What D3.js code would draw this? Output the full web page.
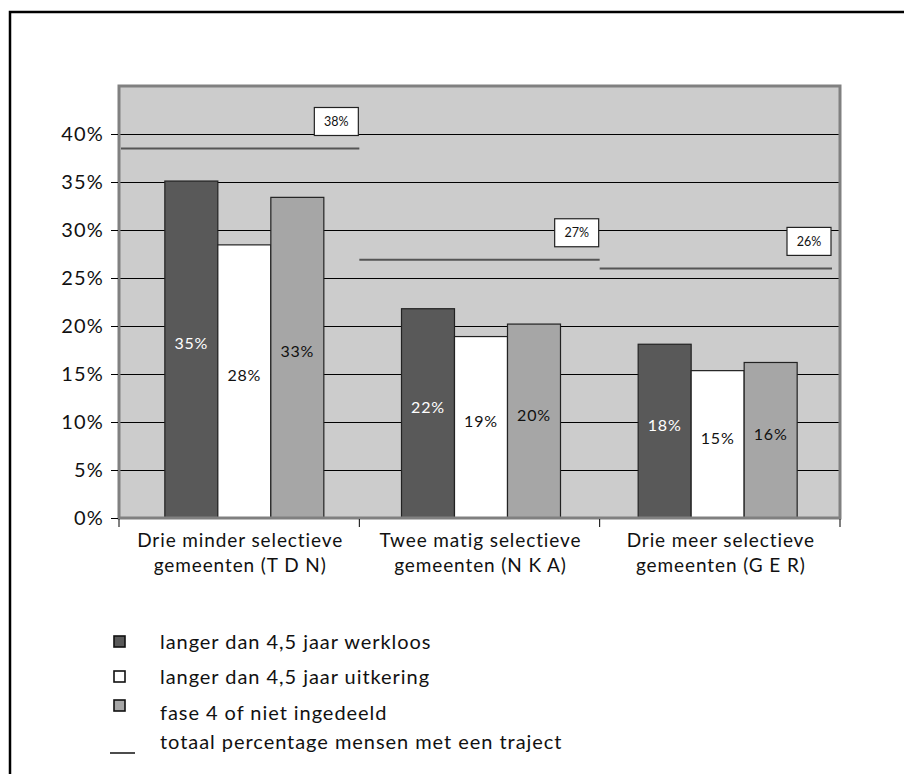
<!DOCTYPE html>
<html>
<head>
<meta charset="utf-8">
<script src="https://cdn.jsdelivr.net/npm/d3@7"></script>
<style>
  html, body { margin: 0; padding: 0; background: #fff; }
  svg { display: block; font-family: Lato, "Open Sans", sans-serif; }
</style>
</head>
<body>
<svg id="chart" width="904" height="774"></svg>
<script>
// Categories (two-line labels) and the three bar series, in percent
const categories = [
  ["Drie minder selectieve", "gemeenten (T D N)"],
  ["Twee matig selectieve", "gemeenten (N K A)"],
  ["Drie meer selectieve", "gemeenten (G E R)"]
];
const seriesNames = [
  "langer dan 4,5 jaar werkloos",
  "langer dan 4,5 jaar uitkering",
  "fase 4 of niet ingedeeld"
];
const werkloos   = [35.1, 21.8, 18.1];
const uitkering  = [28.45, 18.9, 15.35];
const fase4      = [33.4, 20.2, 16.2];
// Total share of people with a trajectory, per category
const totaal     = [38.49, 26.9, 26.0];
const lineName   = "totaal percentage mensen met een traject";
const yTicks     = [0, 5, 10, 15, 20, 25, 30, 35, 40];

const fills = ["#595959", "#ffffff", "#a6a6a6"];
const series = [werkloos, uitkering, fase4];

const svg = d3.select("#chart");

// outer frame
svg.append("rect")
  .attr("x", 10).attr("y", 12).attr("width", 920).attr("height", 800)
  .attr("fill", "none").attr("stroke", "#000").attr("stroke-width", 2.5);

const plot = { left: 119, right: 840, top: 86, bottom: 518 };

const y = d3.scaleLinear().domain([0, 45]).range([plot.bottom, plot.top]);
const xAxisScale = d3.scaleBand().domain(d3.range(categories.length))
  .range([plot.left, plot.right]);
const xBars = d3.scaleBand().domain(d3.range(categories.length))
  .range([126, 836]);
const barW = 53;
const xSub = d3.scaleBand().domain(d3.range(series.length))
  .range([0, barW * series.length]);

// plot background
svg.append("rect")
  .attr("x", plot.left).attr("y", plot.top)
  .attr("width", plot.right - plot.left).attr("height", plot.bottom - plot.top)
  .attr("fill", "#cccccc");

// gridlines
svg.append("g").selectAll("line").data(yTicks.filter(d => d > 0)).join("line")
  .attr("x1", plot.left).attr("x2", plot.right)
  .attr("y1", d => Math.round(y(d)) + 0.5).attr("y2", d => Math.round(y(d)) + 0.5)
  .attr("stroke", "#000").attr("stroke-width", 1.2);

// bars
const groups = svg.append("g").selectAll("g").data(categories).join("g")
  .attr("transform", (d, i) => `translate(${xBars(i) + xBars.bandwidth() / 2 - barW * 1.5},0)`);

groups.each(function(c, i) {
  const g = d3.select(this);
  series.forEach((s, k) => {
    g.append("rect")
      .attr("x", xSub(k)).attr("y", y(s[i]))
      .attr("width", xSub.bandwidth()).attr("height", y(0) - y(s[i]))
      .attr("fill", fills[k]).attr("stroke", "#222").attr("stroke-width", 1.2);
    g.append("text")
      .attr("x", xSub(k) + xSub.bandwidth() / 2)
      .attr("y", (y(s[i]) + y(0)) / 2 - 6)
      .attr("dy", "0.35em")
      .attr("text-anchor", "middle")
      .attr("font-size", 16).attr("letter-spacing", 0.8)
      .attr("fill", k === 0 ? "#fff" : "#111")
      .text(d3.format(".0f")(s[i]) + "%");
  });
});

// total lines per category
svg.append("g").selectAll("line").data(totaal).join("line")
  .attr("x1", (d, i) => xAxisScale(i) + (i === 0 ? 2 : 0))
  .attr("x2", (d, i) => xAxisScale(i) + xAxisScale.bandwidth() - (i === 2 ? 8 : 0))
  .attr("y1", d => y(d)).attr("y2", d => y(d))
  .attr("stroke", "#555").attr("stroke-width", 2);

// value boxes for the totals
const boxes = svg.append("g").selectAll("g").data(totaal).join("g")
  .attr("transform", (d, i) => {
    const xr = xAxisScale(i) + xAxisScale.bandwidth() - (i === 2 ? 8 : 0);
    return `translate(${xr - 45},${y(d) - 41})`;
  });
boxes.append("rect")
  .attr("width", 44).attr("height", 28)
  .attr("fill", "#fff").attr("stroke", "#222").attr("stroke-width", 1.2);
boxes.append("text")
  .attr("x", 22).attr("y", 14).attr("dy", "0.35em")
  .attr("text-anchor", "middle").attr("font-size", 12.5).attr("fill", "#111")
  .text(d => d3.format(".0f")(d) + "%");

// plot border
svg.append("rect")
  .attr("x", plot.left).attr("y", plot.top)
  .attr("width", plot.right - plot.left).attr("height", plot.bottom - plot.top)
  .attr("fill", "none").attr("stroke", "#808080").attr("stroke-width", 3);

// y axis
const yAxis = svg.append("g").attr("transform", `translate(${plot.left - 1},0)`)
  .call(d3.axisLeft(y).tickValues(yTicks).tickSize(7).tickPadding(7)
    .tickFormat(d => d + "%"));
yAxis.select(".domain").remove();
yAxis.selectAll(".tick line").attr("stroke", "#000");
yAxis.selectAll(".tick text").attr("font-size", 20).attr("letter-spacing", 1.2)
  .attr("fill", "#111").attr("font-family", "Lato, sans-serif");

// category axis ticks at the band boundaries
svg.append("g").selectAll("line")
  .data(d3.range(categories.length + 1).map(i => plot.left + i * xAxisScale.bandwidth()))
  .join("line")
  .attr("x1", d => d).attr("x2", d => d)
  .attr("y1", plot.bottom + 1).attr("y2", plot.bottom + 9)
  .attr("stroke", "#000");

const catText = svg.append("g").selectAll("text").data(categories).join("text")
  .attr("x", (d, i) => xAxisScale(i) + xAxisScale.bandwidth() / 2 + 1)
  .attr("y", 547)
  .attr("text-anchor", "middle").attr("font-size", 19).attr("letter-spacing", 0.9)
  .attr("fill", "#111");
catText.each(function(d) {
  const t = d3.select(this);
  d.forEach((line, j) => t.append("tspan")
    .attr("x", t.attr("x")).attr("dy", j === 0 ? 0 : 25).text(line));
});

// legend
const legendY = [642, 677, 713, 742];
const leg = svg.append("g");
seriesNames.forEach((name, k) => {
  leg.append("rect")
    .attr("x", 114).attr("y", legendY[k] - (k === 2 ? 13 : 6))
    .attr("width", 11).attr("height", 11)
    .attr("fill", fills[k]).attr("stroke", "#111").attr("stroke-width", 1.6);
  leg.append("text")
    .attr("x", 160).attr("y", legendY[k]).attr("dy", "0.35em")
    .attr("font-size", 20).attr("letter-spacing", 0.95)
    .attr("fill", "#111").text(name);
});
leg.append("line")
  .attr("x1", 110).attr("x2", 135)
  .attr("y1", legendY[3] + 11).attr("y2", legendY[3] + 11)
  .attr("stroke", "#111").attr("stroke-width", 1.5);
leg.append("text")
  .attr("x", 160).attr("y", legendY[3]).attr("dy", "0.35em")
  .attr("font-size", 20).attr("letter-spacing", 0.95)
  .attr("fill", "#111").text(lineName);
</script>
</body>
</html>
